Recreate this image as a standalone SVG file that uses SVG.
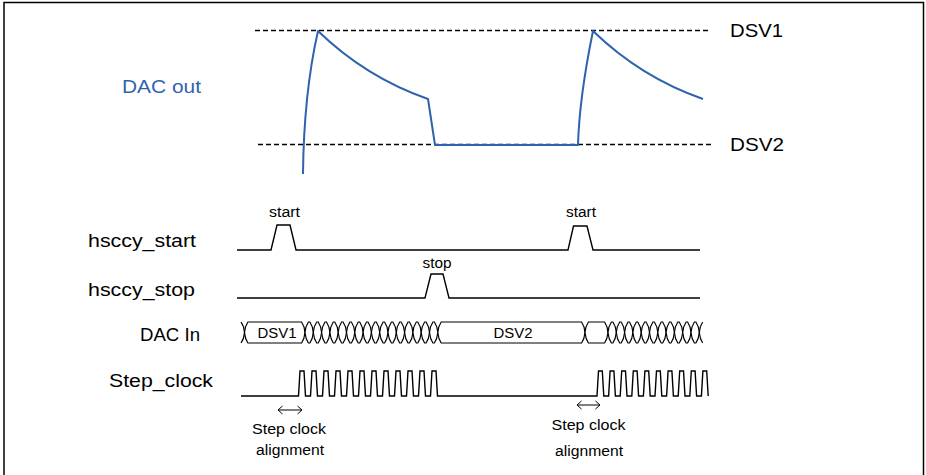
<svg xmlns="http://www.w3.org/2000/svg" xmlns:xlink="http://www.w3.org/1999/xlink" width="926" height="475" viewBox="0 0 926 475">
<style>
.t{font-family:"Liberation Sans",Arial,sans-serif;fill:#000}
.lbl{font-size:17.5px}
.sm{font-size:14px}
.sig{fill:none;stroke:#000;stroke-width:1.4;stroke-linejoin:miter}
.bus{fill:#fff;stroke:#000;stroke-width:1.2}
.open{fill:none;stroke:#000;stroke-width:1.2}
.dash{stroke:#000;stroke-width:1.3;stroke-dasharray:5 3;fill:none}
.dac{fill:none;stroke:#2F63AE;stroke-width:2;stroke-linejoin:round}
.arr{fill:none;stroke:#000;stroke-width:1}
</style>
<defs>
<path id="cell" d="M0,332.5 Q0.6,326 3.4,322 H4.9 Q7.7,326 8.3,332.5 Q7.7,339 4.9,343 H3.4 Q0.6,339 0,332.5 Z"/>
</defs>
<rect width="926" height="475" fill="#fff"/>
<path d="M4,475 V2.5 H923.5 V475" fill="none" stroke="#000" stroke-width="1.5"/>

<g id="dac-out">
<line class="dash" x1="255" y1="30.5" x2="711" y2="30.5"/>
<line class="dash" x1="258" y1="144.5" x2="711" y2="144.5"/>
<path class="dac" d="M303,174 C303.5,125 308,75 318,31 C350,62 385,84 428,99 L435,145 H578 C579,110 585,70 593,31 C625,62 660,84 703,99"/>
<text class="t lbl" x="122" y="93" style="fill:#2F63AE" textLength="79" lengthAdjust="spacingAndGlyphs">DAC out</text>
<text class="t lbl" x="730" y="37" textLength="53" lengthAdjust="spacingAndGlyphs">DSV1</text>
<text class="t lbl" x="730" y="151" textLength="54" lengthAdjust="spacingAndGlyphs">DSV2</text>
</g>

<g id="hsccy-start">
<text class="t lbl" x="88" y="247" textLength="108" lengthAdjust="spacingAndGlyphs">hsccy_start</text>
<path class="sig" d="M237,250 H271 L277,225 H290 L296,250 H568 L573.5,226 H587 L593,250 H700"/>
<text class="t sm" x="284.5" y="217" text-anchor="middle" textLength="31" lengthAdjust="spacingAndGlyphs">start</text>
<text class="t sm" x="581" y="217" text-anchor="middle" textLength="30" lengthAdjust="spacingAndGlyphs">start</text>
</g>

<g id="hsccy-stop">
<text class="t lbl" x="88" y="296" textLength="107" lengthAdjust="spacingAndGlyphs">hsccy_stop</text>
<path class="sig" d="M237,298 H425 L431,274 H443 L449,298 H700"/>
<text class="t sm" x="437" y="267.5" text-anchor="middle" textLength="29" lengthAdjust="spacingAndGlyphs">stop</text>
</g>

<g id="dac-in">
<text class="t lbl" x="140" y="341" textLength="60" lengthAdjust="spacingAndGlyphs">DAC In</text>
<path class="open" d="M241,322 Q244,326 244.5,332.5 Q244,339 241,343"/>
<path class="bus" d="M244.5,332.5 Q245.1,326 247.9,322 H301.6 Q304.4,326 305,332.5 Q304.4,339 301.6,343 H247.9 Q245.1,339 244.5,332.5 Z"/>
<use xlink:href="#cell" class="bus" x="305"/>
<use xlink:href="#cell" class="bus" x="313.3"/>
<use xlink:href="#cell" class="bus" x="321.6"/>
<use xlink:href="#cell" class="bus" x="329.9"/>
<use xlink:href="#cell" class="bus" x="338.2"/>
<use xlink:href="#cell" class="bus" x="346.5"/>
<use xlink:href="#cell" class="bus" x="354.8"/>
<use xlink:href="#cell" class="bus" x="363.1"/>
<use xlink:href="#cell" class="bus" x="371.4"/>
<use xlink:href="#cell" class="bus" x="379.7"/>
<use xlink:href="#cell" class="bus" x="388"/>
<use xlink:href="#cell" class="bus" x="396.3"/>
<use xlink:href="#cell" class="bus" x="404.6"/>
<use xlink:href="#cell" class="bus" x="412.9"/>
<use xlink:href="#cell" class="bus" x="421.2"/>
<use xlink:href="#cell" class="bus" x="429.5"/>
<path class="bus" d="M437.8,332.5 Q438.4,326 441.2,322 H581.6 Q584.4,326 585,332.5 Q584.4,339 581.6,343 H441.2 Q438.4,339 437.8,332.5 Z"/>
<path class="bus" d="M585,332.5 Q585.6,326 588.4,322 H604.6 Q607.4,326 608,332.5 Q607.4,339 604.6,343 H588.4 Q585.6,339 585,332.5 Z"/>
<use xlink:href="#cell" class="bus" x="608"/>
<use xlink:href="#cell" class="bus" x="616.3"/>
<use xlink:href="#cell" class="bus" x="624.6"/>
<use xlink:href="#cell" class="bus" x="632.9"/>
<use xlink:href="#cell" class="bus" x="641.2"/>
<use xlink:href="#cell" class="bus" x="649.5"/>
<use xlink:href="#cell" class="bus" x="657.8"/>
<use xlink:href="#cell" class="bus" x="666.1"/>
<use xlink:href="#cell" class="bus" x="674.4"/>
<use xlink:href="#cell" class="bus" x="682.7"/>
<use xlink:href="#cell" class="bus" x="691"/>
<path class="open" d="M702.7,322 Q699.9,326 699.3,332.5 Q699.9,339 702.7,343"/>
<text class="t sm" x="277" y="337.5" text-anchor="middle" textLength="39" lengthAdjust="spacingAndGlyphs">DSV1</text>
<text class="t sm" x="513" y="337.5" text-anchor="middle" textLength="39" lengthAdjust="spacingAndGlyphs">DSV2</text>
</g>

<g id="step-clock">
<text class="t lbl" x="109" y="387" textLength="104" lengthAdjust="spacingAndGlyphs">Step_clock</text>
<path class="sig" d="M241,396 H298.5 l1.5,-25 h4 l1.5,25 h5 l1.5,-25 h4 l1.5,25 h5 l1.5,-25 h4 l1.5,25 h5 l1.5,-25 h4 l1.5,25 h5 l1.5,-25 h4 l1.5,25 h5 l1.5,-25 h4 l1.5,25 h5 l1.5,-25 h4 l1.5,25 h5 l1.5,-25 h4 l1.5,25 h5 l1.5,-25 h4 l1.5,25 h5 l1.5,-25 h4 l1.5,25 h5 l1.5,-25 h4 l1.5,25 h5 l1.5,-25 h4 l1.5,25 H597 l1.5,-25 h3.8 l1.5,25 h4.8 l1.5,-25 h3.8 l1.5,25 h4.8 l1.5,-25 h3.8 l1.5,25 h4.8 l1.5,-25 h3.8 l1.5,25 h4.8 l1.5,-25 h3.8 l1.5,25 h4.8 l1.5,-25 h3.8 l1.5,25 h4.8 l1.5,-25 h3.8 l1.5,25 h4.8 l1.5,-25 h3.8 l1.5,25 h4.8 l1.5,-25 h3.8 l1.5,25 h4.8 l1.5,-25 h3.8 l1.5,25"/>
</g>

<g id="align-1">
<path class="arr" d="M278,410 H302 M282.5,406 L278,410 L282.5,414 M297.5,406 L302,410 L297.5,414"/>
<text class="t sm" x="289" y="434" text-anchor="middle" textLength="74" lengthAdjust="spacingAndGlyphs">Step clock</text>
<text class="t sm" x="290" y="454.5" text-anchor="middle" textLength="68" lengthAdjust="spacingAndGlyphs">alignment</text>
</g>

<g id="align-2">
<path class="arr" d="M577,405 H600 M581.5,401 L577,405 L581.5,409 M595.5,401 L600,405 L595.5,409"/>
<text class="t sm" x="588.5" y="430" text-anchor="middle" textLength="74" lengthAdjust="spacingAndGlyphs">Step clock</text>
<text class="t sm" x="589" y="456" text-anchor="middle" textLength="68" lengthAdjust="spacingAndGlyphs">alignment</text>
</g>
</svg>
